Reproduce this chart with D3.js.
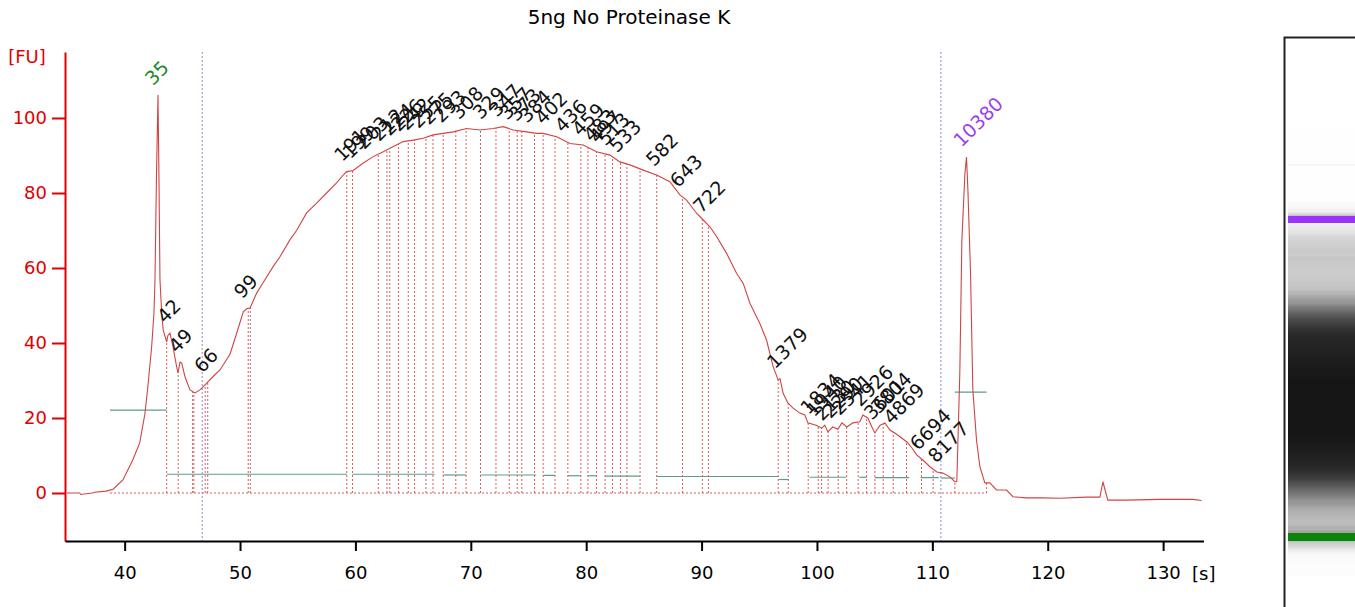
<!DOCTYPE html>
<html><head><meta charset="utf-8">
<script src="https://cdn.jsdelivr.net/npm/d3@7"></script>
<style>body{margin:0;background:#fff;} svg{display:block;} text{font-family:"DejaVu Sans",sans-serif;}</style>
</head><body><svg id="c" width="1355" height="607"></svg>
<script>
// ---- data (time [s], fluorescence [FU]) ----
const traceTime = [35.0,36.1,36.2,37.2,37.4,38.4,39.0,39.85,40.7,41.3,41.75,42.0,42.34,42.54,42.63,42.76,42.89,42.97,43.06,43.21,43.34,43.64,43.75,43.93,44.19,44.51,44.62,44.8,44.94,45.23,45.66,46.09,46.53,47.11,47.65,48.26,49.13,49.71,50.28,50.6,50.86,51.44,51.98,52.85,53.46,54.32,54.9,55.77,56.64,57.5,58.37,58.94,59.24,59.81,60.68,61.54,62.41,63.28,64.14,65.01,65.88,66.74,67.61,68.47,69.64,70.79,71.94,72.81,73.67,74.84,75.7,76.27,77.44,78.59,79.74,80.9,82.06,82.92,83.79,84.94,86.1,87.25,88.12,88.7,89.57,90.14,90.72,91.3,92.17,93.03,93.61,94.19,95.05,95.63,96.2,96.64,96.8,97.07,97.48,97.91,98.52,98.95,99.21,99.99,100.42,100.68,100.94,101.38,101.81,102.16,102.59,103.11,103.72,103.98,104.41,104.76,105.02,105.45,105.89,106.32,106.75,107.19,107.8,108.23,108.66,109.18,109.79,110.39,110.91,111.52,111.95,112.12,112.38,112.56,112.82,112.96,113.08,113.31,113.51,113.83,114.12,114.55,114.98,115.56,116.43,116.98,118.16,119.58,121.05,123.36,124.52,124.78,125.04,125.21,126.83,129.72,132.58,133.33];
const traceFU = [0,0,-0.4,0,0.2,0.5,1,3.5,8.8,13.3,21,28,39,48,57,85,106.1,85,57,48,43.5,40.3,42.0,42.6,39,33.6,32,34.9,34.7,31,27.5,26.7,27.5,29.3,31,32.8,37,42.6,48.3,49.2,49.3,53.3,56,60.3,63,67.5,70,74.7,77.3,80,82.7,84.8,85.7,86,88,89.7,91,92.4,93.7,94.1,94.6,95.5,95.9,96.3,97.2,96.8,97.2,97.7,96.8,96.3,95.9,95.9,95,93.2,92.8,91,90.1,88.3,87.5,86.1,84.8,83,79.5,78.1,74.6,72.8,71,68.4,63.9,58.6,55.9,50.6,45.2,40.8,33.7,30.1,30.5,26.6,24,22.7,21.3,20.8,18.7,18,17.3,18.1,16.3,17.6,17,18.7,17.6,18.7,19,20.8,20,17.6,16,18,18.7,16.8,16,15,13.6,12,10.1,8.8,7,5.6,5.3,4.3,3,3,32,67.5,85,89.6,81,58.7,27.5,14,7,2.7,2.7,0.8,0.8,-1,-1.3,-1.3,-1.4,-1.1,-1.1,3,0,-1.9,-1.9,-1.7,-1.7,-2];

const peakLabels = ["35","42","49","66","99","191","199","203","212","224","226","242","255","275","293","308","329","347","357","373","384","402","436","459","483","497","513","533","582","643","722","1379","1834","1940","2130","2290","2541","2926","3601","3804","4869","6694","8177","10380"];
const peakTimes  = [42.89,43.93,44.94,47.15,50.6,59.3,60.0,61.2,62.5,63.4,64.2,64.9,65.9,66.8,67.9,69.4,71.3,72.7,73.6,74.4,75.3,76.7,78.4,79.9,80.9,81.4,82.1,83.1,86.3,88.4,90.4,96.8,99.7,100.2,100.9,101.6,102.4,104.2,105.2,105.8,106.9,109.2,110.75,112.96];

const boundaryTimes = [43.64,44.64,45.89,46.0,46.98,47.2,50.71,50.89,59.25,59.75,61.98,62.73,62.98,63.73,64.58,65.12,66.11,66.72,67.61,68.70,69.59,70.84,72.18,73.33,74.02,74.42,75.52,76.27,77.30,78.41,79.54,80.15,80.89,81.64,82.28,82.98,83.53,84.67,86.11,88.35,90.07,90.59,96.64,97.51,99.24,100.11,100.40,100.97,101.84,102.57,103.57,104.30,105.02,105.74,106.61,107.76,109.06,110.07,111.95,114.70];

const baseSegStart = [38.73,43.66,59.75,67.61,70.84,76.27,78.41,80.15,81.64,86.11,96.70,99.34,103.67,105.02,108.99,110.74,111.95];
const baseSegEnd   = [43.64,59.26,66.86,69.59,75.67,77.30,79.54,80.89,84.67,96.70,97.57,102.53,104.32,108.0,110.55,111.95,114.70];
const baseSegLevel = [22.1,5.0,5.0,4.8,4.8,4.7,4.6,4.6,4.5,4.4,3.6,4.2,4.2,4.1,4.1,4.0,26.9];

const markerTimes = [46.72,110.74];
const xTicks = [40,50,60,70,80,90,100,110,120,130];
const yTicks = [0,20,40,60,80,100];
const title = "5ng No Proteinase K";

// ---- drawing ----
const svg = d3.select("#c");
svg.append("rect").attr("width",1355).attr("height",607).attr("fill","#fff");
const x = d3.scaleLinear().domain([34.83,133.5]).range([65,1203.5]);
const y = d3.scaleLinear().domain([-12.8,117.6]).range([541,52]);
const trace = traceTime.map((t,i)=>[t,traceFU[i]]);
const bis = d3.bisector(d=>d[0]).left;
function valAt(t){
  let i = bis(trace,t);
  if(i<=0) return trace[0][1];
  if(i>=trace.length) return trace[trace.length-1][1];
  const a=trace[i-1], b=trace[i];
  return a[1]+(b[1]-a[1])*(t-a[0])/(b[0]-a[0]);
}

const dotted = "#e05a5a";
svg.append("line").attr("x1",x(38.73)).attr("x2",x(114.7)).attr("y1",y(0)).attr("y2",y(0))
  .attr("stroke",dotted).attr("stroke-width",1).attr("stroke-dasharray","2,2");
svg.append("g").selectAll("line").data(boundaryTimes).join("line")
  .attr("x1",d=>x(d)).attr("x2",d=>x(d)).attr("y1",y(0)).attr("y2",d=>y(valAt(d)))
  .attr("stroke",dotted).attr("stroke-width",1).attr("stroke-dasharray","2,2");
svg.append("g").selectAll("line").data(baseSegStart).join("line")
  .attr("x1",(d)=>x(d)).attr("x2",(d,i)=>x(baseSegEnd[i]))
  .attr("y1",(d,i)=>y(baseSegLevel[i])).attr("y2",(d,i)=>y(baseSegLevel[i]))
  .attr("stroke","#5e9c8e").attr("stroke-width",1.2);
svg.append("g").selectAll("line").data(markerTimes).join("line")
  .attr("x1",d=>x(d)).attr("x2",d=>x(d)).attr("y1",52).attr("y2",541)
  .attr("stroke","#8a8ad0").attr("stroke-width",1).attr("stroke-dasharray","2,2");
svg.append("path").datum(trace)
  .attr("d",d3.line().x(d=>x(d[0])).y(d=>y(d[1])))
  .attr("fill","none").attr("stroke","#d04444").attr("stroke-width",1.1);
svg.append("g").selectAll("text").data(peakLabels).join("text")
  .attr("transform",(d,i)=>{const px=x(peakTimes[i])-5, py=y(valAt(peakTimes[i]))-9; return `translate(${px},${py}) rotate(-45)`;})
  .attr("font-size",19)
  .attr("fill",(d,i)=> i===0 ? "#1f8a1f" : (i===peakLabels.length-1 ? "#9b3ff0" : "#111"))
  .text(d=>d);

const ya = svg.append("g").attr("transform","translate(65,0)")
  .call(d3.axisLeft(y).tickValues(yTicks).tickSize(13).tickSizeOuter(0).tickPadding(5));
ya.select(".domain").attr("stroke","#e00000").attr("stroke-width",2);
ya.selectAll(".tick line").attr("stroke","#e00000").attr("stroke-width",2);
ya.selectAll(".tick text").attr("fill","#e00000").attr("font-size",18).attr("font-family","DejaVu Sans");
const xa = svg.append("g").attr("transform","translate(0,541)")
  .call(d3.axisBottom(x).tickValues(xTicks).tickSize(10).tickSizeOuter(0).tickPadding(15));
xa.select(".domain").attr("stroke","#000").attr("stroke-width",2);
xa.selectAll(".tick line").attr("stroke","#000").attr("stroke-width",2);
xa.selectAll(".tick text").attr("fill","#000").attr("font-size",18).attr("font-family","DejaVu Sans");
svg.append("text").attr("x",27).attr("y",63).attr("text-anchor","middle").attr("font-size",18).attr("fill","#e00000").text("[FU]");
svg.append("text").attr("x",1192).attr("y",580).attr("font-size",18).attr("fill","#000").text("[s]");
svg.append("text").attr("x",629).attr("y",24).attr("text-anchor","middle").attr("font-size",20).attr("fill","#000").text(title);

// gel lane
const gy = d3.scaleLinear().domain([42.89,112.96]).range([537,218.7]);
const gray = d3.scaleLinear().domain([-0.5,0.5,10,25,50,70,80,95]).range([254,250,214,192,148,78,45,22]).clamp(true);
const rows = d3.range(126,576);
svg.append("g").selectAll("rect").data(rows).join("rect")
  .attr("x",1288).attr("width",67).attr("y",d=>d).attr("height",1.05)
  .attr("fill",d=>{
    const t = gy.invert(d+0.5);
    if (Math.abs(t-112.85) < 0.8) return "#9b33ff";
    if (Math.abs(t-42.89) < 0.9) return "#0a850a";
    const g = Math.round(gray(valAt(t)));
    return d3.rgb(g,g,g);
  });
svg.append("path").attr("d","M1284.5,607 V37.5 H1355").attr("fill","none").attr("stroke","#222").attr("stroke-width",2);
</script></body></html>
